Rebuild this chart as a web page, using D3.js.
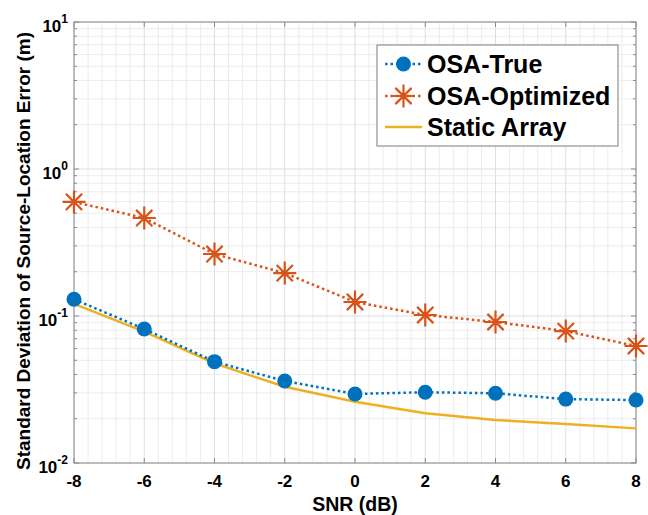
<!DOCTYPE html>
<html>
<head>
<meta charset="utf-8">
<script src="https://cdn.jsdelivr.net/npm/d3@7"></script>
<style>
  body { margin: 0; background: #fff; }
  text { font-family: "Liberation Sans", Arial, sans-serif; font-weight: bold; fill: #000; }
</style>
</head>
<body>
<script>
// data
var snr = [-8, -6, -4, -2, 0, 2, 4, 6, 8];
var osaTrue = [0.130, 0.0816, 0.0489, 0.0361, 0.0295, 0.0303, 0.0298, 0.0272, 0.0268];
var osaOptimized = [0.597, 0.464, 0.264, 0.196, 0.1245, 0.1016, 0.091, 0.079, 0.0625];
var staticArray = [0.121, 0.0782, 0.0476, 0.033, 0.0261, 0.0218, 0.0196, 0.0184, 0.0172];
var xTicks = [-8, -6, -4, -2, 0, 2, 4, 6, 8];
var yTickExp = [-2, -1, 0, 1];
var seriesNames = ["OSA-True", "OSA-Optimized", "Static Array"];

var svgWidth = 648;
var svgHeight = 515;

// plot box in pixels
var margin = { top: 22, right: 12, bottom: 52, left: 74 };
var chartWidth = svgWidth - margin.left - margin.right;
var chartHeight = svgHeight - margin.top - margin.bottom;

var blue = "#0072BD", orange = "#D95319", yellow = "#EDB120";

var svg = d3.select("body")
  .append("svg")
  .attr("width", svgWidth)
  .attr("height", svgHeight);

var chartGroup = svg.append("g")
  .attr("transform", `translate(${margin.left}, ${margin.top})`);

var x = d3.scaleLinear().domain([-8, 8]).range([0, chartWidth]);
var y = d3.scaleLog().domain([0.01, 10]).range([chartHeight, 0]);

// minor grid values
var xMinor = d3.range(-8, 8.001, 0.4).filter(v => Math.abs(v / 2 - Math.round(v / 2)) > 1e-6);
var yMinor = [];
yTickExp.slice(0, 3).forEach(function(e) {
  for (var k = 2; k <= 9; k++) yMinor.push(k * Math.pow(10, e));
});
var yMajor = yTickExp.map(e => Math.pow(10, e));

// grid lines
var grid = chartGroup.append("g");
grid.selectAll(".xminor").data(xMinor).enter().append("line")
  .attr("x1", d => x(d)).attr("x2", d => x(d))
  .attr("y1", 0).attr("y2", chartHeight)
  .attr("stroke", "#ececec").attr("stroke-width", 1);
grid.selectAll(".yminor").data(yMinor).enter().append("line")
  .attr("x1", 0).attr("x2", chartWidth)
  .attr("y1", d => y(d)).attr("y2", d => y(d))
  .attr("stroke", "#ececec").attr("stroke-width", 1);
grid.selectAll(".xmajor").data(xTicks).enter().append("line")
  .attr("x1", d => x(d)).attr("x2", d => x(d))
  .attr("y1", 0).attr("y2", chartHeight)
  .attr("stroke", "#dedede").attr("stroke-width", 1);
grid.selectAll(".ymajor").data(yMajor).enter().append("line")
  .attr("x1", 0).attr("x2", chartWidth)
  .attr("y1", d => y(d)).attr("y2", d => y(d))
  .attr("stroke", "#dedede").attr("stroke-width", 1);

// inside ticks on all four sides (box on)
var tickColor = "#8a8a8a";
var ticks = chartGroup.append("g").attr("stroke", tickColor).attr("stroke-width", 1);
xTicks.forEach(function(d) {
  ticks.append("line").attr("x1", x(d)).attr("x2", x(d)).attr("y1", chartHeight).attr("y2", chartHeight - 5);
  ticks.append("line").attr("x1", x(d)).attr("x2", x(d)).attr("y1", 0).attr("y2", 5);
});
yMajor.concat(yMinor).forEach(function(d) {
  var len = yMajor.indexOf(d) >= 0 ? 5 : 3;
  ticks.append("line").attr("x1", 0).attr("x2", len).attr("y1", y(d)).attr("y2", y(d));
  ticks.append("line").attr("x1", chartWidth).attr("x2", chartWidth - len).attr("y1", y(d)).attr("y2", y(d));
});

// axes box
chartGroup.append("rect")
  .attr("width", chartWidth).attr("height", chartHeight)
  .attr("fill", "none").attr("stroke", tickColor).attr("stroke-width", 1);

// x tick labels
chartGroup.selectAll(".xlab").data(xTicks).enter().append("text")
  .attr("x", d => x(d))
  .attr("y", chartHeight + 24)
  .attr("text-anchor", "middle")
  .attr("font-size", "17px")
  .text(d => d);

// y tick labels 10^e
var yLab = chartGroup.selectAll(".ylab").data(yTickExp).enter().append("text")
  .attr("x", -6)
  .attr("y", d => y(Math.pow(10, d)) + 10)
  .attr("text-anchor", "end")
  .attr("font-size", "17px");
yLab.append("tspan").text("10");
yLab.append("tspan").attr("dy", -9).attr("font-size", "12px").text(d => d);

// axis titles
svg.append("text")
  .attr("x", margin.left + chartWidth / 2)
  .attr("y", 511)
  .attr("text-anchor", "middle")
  .attr("font-size", "19.5px")
  .text("SNR (dB)");

svg.append("text")
  .attr("transform", "translate(23, 251) rotate(-90)")
  .attr("text-anchor", "middle")
  .attr("dominant-baseline", "central")
  .attr("font-size", "19px")
  .text("Standard Deviation of Source-Location Error (m)");

var line = d3.line().x(d => x(d[0])).y(d => y(d[1]));

// static array - solid yellow
chartGroup.append("path")
  .datum(d3.zip(snr, staticArray))
  .attr("d", line)
  .attr("fill", "none").attr("stroke", yellow).attr("stroke-width", 2.5);

// OSA-Optimized - dotted orange with asterisks
chartGroup.append("path")
  .datum(d3.zip(snr, osaOptimized))
  .attr("d", line)
  .attr("fill", "none").attr("stroke", orange).attr("stroke-width", 2.5)
  .attr("stroke-dasharray", "2.5,3");

// OSA-True - dotted blue with circles
chartGroup.append("path")
  .datum(d3.zip(snr, osaTrue))
  .attr("d", line)
  .attr("fill", "none").attr("stroke", blue).attr("stroke-width", 2.5)
  .attr("stroke-dasharray", "2.5,3");

function asterisk(g, cx, cy, r) {
  var s = r * Math.SQRT1_2;
  var path = `M${cx - r},${cy}L${cx + r},${cy}M${cx},${cy - r}L${cx},${cy + r}` +
    `M${cx - s},${cy - s}L${cx + s},${cy + s}M${cx - s},${cy + s}L${cx + s},${cy - s}`;
  g.append("path").attr("d", path).attr("stroke", orange).attr("stroke-width", 2.2).attr("fill", "none");
}

var starGroup = chartGroup.append("g");
snr.forEach(function(d, i) {
  asterisk(starGroup, x(d), y(osaOptimized[i]), 11.5);
});

chartGroup.selectAll(".dot").data(d3.zip(snr, osaTrue)).enter().append("circle")
  .attr("cx", d => x(d[0]))
  .attr("cy", d => y(d[1]))
  .attr("r", 7.5)
  .attr("fill", blue);

// legend
var legend = svg.append("g").attr("transform", "translate(377, 45)");
legend.append("rect")
  .attr("width", 241).attr("height", 101)
  .attr("fill", "#fff").attr("stroke", "#7a7a7a").attr("stroke-width", 1);

var rowY = [19, 51, 82];
var colors = [blue, orange, yellow];
seriesNames.forEach(function(name, i) {
  var row = legend.append("g").attr("transform", `translate(0, ${rowY[i]})`);
  row.append("line")
    .attr("x1", 8).attr("x2", 45).attr("y1", 0).attr("y2", 0)
    .attr("stroke", colors[i]).attr("stroke-width", 2.5)
    .attr("stroke-dasharray", i < 2 ? "2.5,3" : null);
  if (i === 0) row.append("circle").attr("cx", 26.5).attr("cy", 0).attr("r", 7.5).attr("fill", blue);
  if (i === 1) asterisk(row, 26.5, 0, 11.5);
  row.append("text")
    .attr("x", 50).attr("y", 0)
    .attr("dominant-baseline", "central")
    .attr("font-size", "25px")
    .text(name);
});
</script>
</body>
</html>
